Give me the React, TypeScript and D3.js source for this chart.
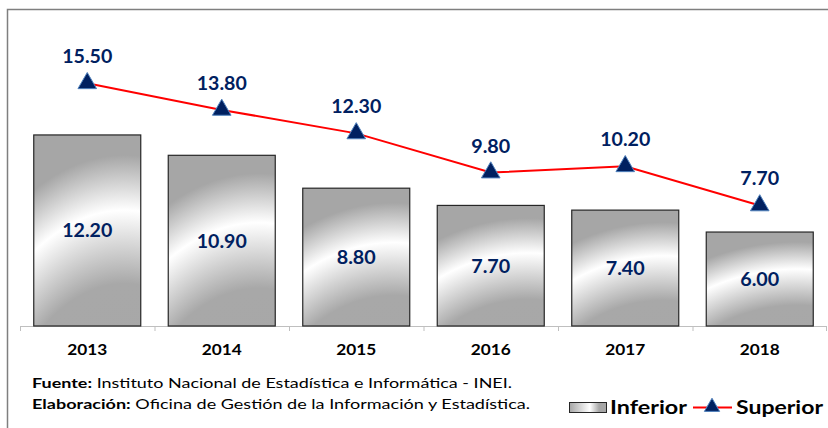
import React from "react";
import * as d3 from "d3";

const years = ["2013", "2014", "2015", "2016", "2017", "2018"];
const inferior = [12.2, 10.9, 8.8, 7.7, 7.4, 6.0];
const superior = [15.5, 13.8, 12.3, 9.8, 10.2, 7.7];
const seriesNames = ["Inferior", "Superior"];
const fuenteLabel = "Fuente:";
const fuenteText = " Instituto Nacional de Estadística e Informática - INEI.";
const elabLabel = "Elaboración:";
const elabText = " Oficina de Gestión de la Información y Estadística.";

const W = 828;
const H = 428;
const NAVY = "#002060";
const FONT = "Lato, 'Open Sans', sans-serif";

// width of a numeric label, glyphs widened to match the reference's look
const numWidth = (s: string) => s.replace(".", "").length * 11 + 6;

export default function App() {
  const band = d3.scaleBand<string>().domain(years).range([20, 827]);
  const y = d3.scaleLinear().domain([0, 20]).range([326, 12.8]);
  const cxOf = (i: number) => (band(years[i]) as number) + band.bandwidth() / 2;
  const line = d3
    .line<number>()
    .x((_, i) => cxOf(i))
    .y((d) => y(d));
  const tri = d3.symbol().type(d3.symbolTriangle).size(150);
  const triLeg = d3.symbol().type(d3.symbolTriangle).size(100);

  return (
    <svg width={W} height={H} style={{ position: "absolute", left: 0, top: 0 }}>
      <defs>
        <radialGradient id="chrome" cx="0.85" cy="2.17" r="2.4" fx="0.85" fy="2.17">
          <stop offset="0" stopColor="#a6a6a6" />
          <stop offset="0.58" stopColor="#a8a8a8" />
          <stop offset="0.74" stopColor="#ffffff" />
          <stop offset="0.86" stopColor="#a6a6a6" />
          <stop offset="1" stopColor="#a6a6a6" />
        </radialGradient>
        <linearGradient id="chromeLeg" x1="0" y1="0" x2="1" y2="0">
          <stop offset="0" stopColor="#a6a6a6" />
          <stop offset="0.55" stopColor="#ffffff" />
          <stop offset="0.8" stopColor="#a6a6a6" />
        </linearGradient>
      </defs>
      <rect width={W} height={H} fill="#fff" />
      <path d={`M7.5,${H} V9.5 H${W}`} fill="none" stroke="#7f7f7f" strokeWidth={1.5} />

      {/* axis */}
      <line x1={20} x2={827} y1={326.5} y2={326.5} stroke="#bfbfbf" strokeWidth={1} />
      {years.map((yr) => (
        <line key={yr} x1={(band(yr) as number) + 0.5} x2={(band(yr) as number) + 0.5} y1={326} y2={331} stroke="#bfbfbf" />
      ))}
      <line x1={826.5} x2={826.5} y1={326} y2={331} stroke="#bfbfbf" />

      {/* bars */}
      {inferior.map((v, i) => {
        const cx = cxOf(i);
        const bw = 107;
        const s = v.toFixed(2);
        return (
          <g key={i}>
            <rect x={cx - bw / 2} y={y(v)} width={bw} height={y(0) - y(v)} fill="url(#chrome)" stroke="#262626" strokeWidth={1.2} />
            <text x={cx - numWidth(s) / 2} y={(y(v) + y(0)) / 2 + 7} fontFamily={FONT} fontWeight="bold" fontSize={19} fill={NAVY} textLength={numWidth(s)} lengthAdjust="spacingAndGlyphs">
              {s}
            </text>
          </g>
        );
      })}

      {/* line */}
      <path d={line(superior) as string} fill="none" stroke="#ff0000" strokeWidth={2} />
      {superior.map((v, i) => {
        const cx = cxOf(i);
        const s = v.toFixed(2);
        return (
          <g key={i}>
            <path d={tri() as string} transform={`translate(${cx},${y(v)})`} fill={NAVY} stroke="#4f81bd" strokeWidth={1} />
            <text x={cx - numWidth(s) / 2} y={y(v) - 20} fontFamily={FONT} fontWeight="bold" fontSize={19} fill={NAVY} textLength={numWidth(s)} lengthAdjust="spacingAndGlyphs">
              {s}
            </text>
          </g>
        );
      })}

      {/* year labels */}
      {years.map((yr, i) => (
        <text key={yr} x={cxOf(i) - 20} y={355} fontFamily={FONT} fontWeight="bold" fontSize={16} fill="#000" textLength={40} lengthAdjust="spacingAndGlyphs">
          {yr}
        </text>
      ))}

      {/* footnotes */}
      <text x={32} y={388} fontFamily={FONT} fontSize={14} fill="#000" textLength={480} lengthAdjust="spacingAndGlyphs">
        <tspan fontWeight="bold">{fuenteLabel}</tspan>
        {fuenteText}
      </text>
      <text x={32} y={409} fontFamily={FONT} fontSize={14} fill="#000" textLength={498} lengthAdjust="spacingAndGlyphs">
        <tspan fontWeight="bold">{elabLabel}</tspan>
        {elabText}
      </text>

      {/* legend */}
      <rect x={569.5} y={402.5} width={37} height={10} fill="url(#chromeLeg)" stroke="#262626" />
      <text x={610} y={414} fontFamily={FONT} fontWeight="bold" fontSize={19} fill="#000" textLength={77} lengthAdjust="spacingAndGlyphs">
        {seriesNames[0]}
      </text>
      <line x1={693} x2={732} y1={407.5} y2={407.5} stroke="#ff0000" strokeWidth={2} />
      <path d={triLeg() as string} transform="translate(712,407)" fill={NAVY} stroke="#4f81bd" strokeWidth={1} />
      <text x={736} y={414} fontFamily={FONT} fontWeight="bold" fontSize={19} fill="#000" textLength={87} lengthAdjust="spacingAndGlyphs">
        {seriesNames[1]}
      </text>
    </svg>
  );
}
